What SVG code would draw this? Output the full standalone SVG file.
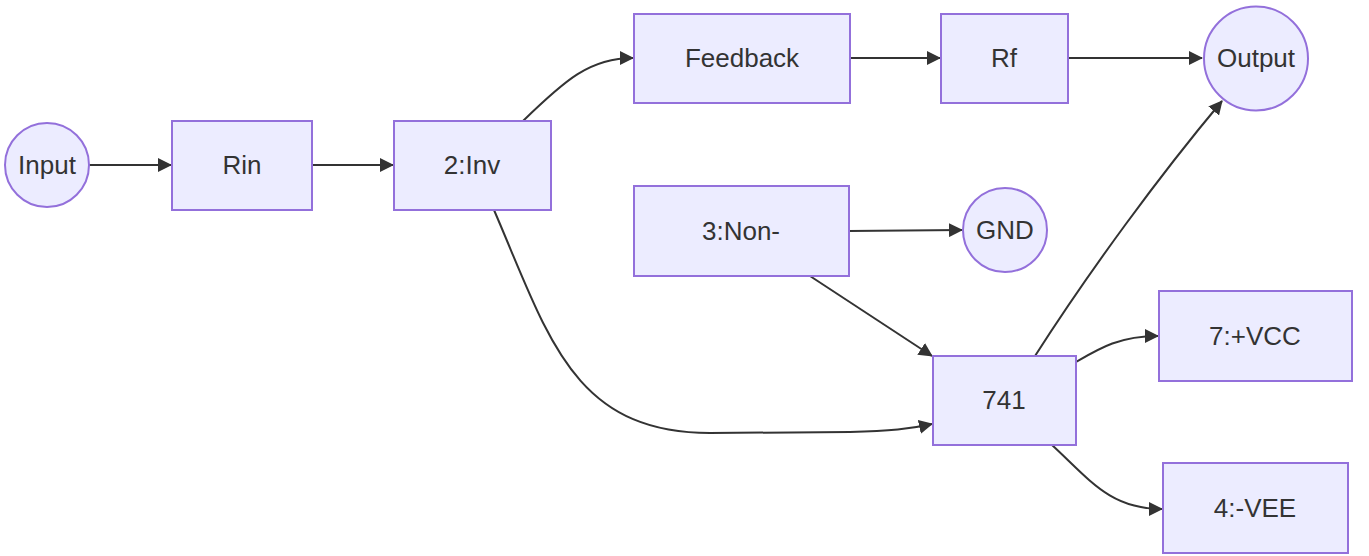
<svg xmlns="http://www.w3.org/2000/svg" width="1369" height="556" viewBox="0 0 1369 556">
<style>
.n{fill:#ECECFF;stroke:#9370DB;stroke-width:2}
.t{font-family:"Liberation Sans",Arial,sans-serif;font-size:26px;fill:#333;text-anchor:middle;dominant-baseline:central}
.e{fill:none;stroke:#333;stroke-width:2}
</style>
<defs>
<marker id="a" markerUnits="userSpaceOnUse" markerWidth="14" markerHeight="14" viewBox="0 0 14 14" refX="13" refY="7" orient="auto">
<path d="M0,0 L14,7 L0,14 z" fill="#333"/>
</marker>
</defs>
<g id="connectors">
<path class="e" d="M89,165 L171,165" marker-end="url(#a)"/>
<path class="e" d="M312,165 L393,165" marker-end="url(#a)"/>
<path class="e" d="M523,121 C565,80 590,58 633,58" marker-end="url(#a)"/>
<path class="e" d="M850,58 L940,58" marker-end="url(#a)"/>
<path class="e" d="M1068,58 L1202,58" marker-end="url(#a)"/>
<path class="e" d="M494,210 C548,335 572,433 710,433 L850,432 C890,431 910,429 932,424" marker-end="url(#a)"/>
<path class="e" d="M849,231 L962,230" marker-end="url(#a)"/>
<path class="e" d="M810,276 L932,356" marker-end="url(#a)"/>
<path class="e" d="M1035,356 C1090,270 1160,175 1222,101" marker-end="url(#a)"/>
<path class="e" d="M1076,362 C1100,348 1120,336 1158,336" marker-end="url(#a)"/>
<path class="e" d="M1052,445 C1090,480 1110,509 1162,509" marker-end="url(#a)"/>
</g>
<g id="Input"><circle class="n" cx="47" cy="165" r="42"/><text class="t" x="47" y="165">Input</text></g>
<g id="Rin"><rect class="n" x="172" y="121" width="140" height="89"/><text class="t" x="242" y="165">Rin</text></g>
<g id="Inv"><rect class="n" x="394" y="121" width="157" height="89"/><text class="t" x="472" y="165">2:Inv</text></g>
<g id="Feedback"><rect class="n" x="634" y="14" width="216" height="89"/><text class="t" x="742" y="58">Feedback</text></g>
<g id="Rf"><rect class="n" x="941" y="14" width="127" height="89"/><text class="t" x="1004" y="58">Rf</text></g>
<g id="Output"><circle class="n" cx="1256" cy="58.5" r="52"/><text class="t" x="1256" y="58">Output</text></g>
<g id="NonInv"><rect class="n" x="634" y="186" width="215" height="90"/><text class="t" x="741" y="231">3:Non-</text></g>
<g id="GND"><circle class="n" cx="1005" cy="230" r="42"/><text class="t" x="1005" y="230">GND</text></g>
<g id="U741"><rect class="n" x="933" y="356" width="143" height="89"/><text class="t" x="1004" y="400">741</text></g>
<g id="VCC"><rect class="n" x="1159" y="291" width="193" height="90"/><text class="t" x="1255" y="336">7:+VCC</text></g>
<g id="VEE"><rect class="n" x="1163" y="463" width="185" height="90"/><text class="t" x="1255" y="508">4:-VEE</text></g>
</svg>
